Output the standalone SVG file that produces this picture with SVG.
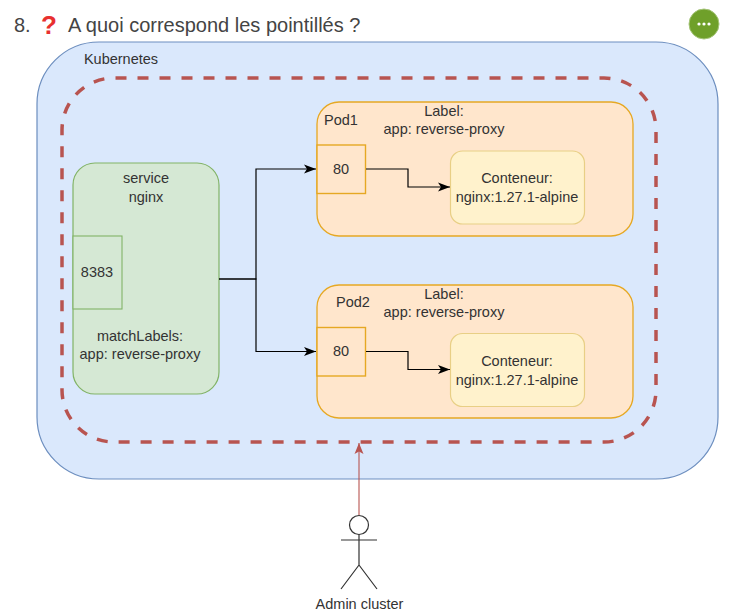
<svg xmlns="http://www.w3.org/2000/svg" width="733" height="614" viewBox="0 0 733 614">
<style>
text{font-family:"Liberation Sans",Arial,sans-serif;font-size:14.5px;fill:#333;text-anchor:middle}
.pod{fill:#ffe6cc;stroke:#e6a823;stroke-width:1.3}
.port{fill:#ffe6cc;stroke:#e6a823;stroke-width:1.4}
.ctr{fill:#fff2cc;stroke:#e8cf85;stroke-width:1.2}
.conn{fill:none;stroke:#000;stroke-width:1.2}
</style>
<defs>
<marker id="a" markerUnits="userSpaceOnUse" markerWidth="13" markerHeight="11" refX="12" refY="5.500" orient="auto"><path d="M0 1L12 5.500L0 10L3 5.500Z" fill="#000"/></marker>
<marker id="r" markerUnits="userSpaceOnUse" markerWidth="12" markerHeight="12" refX="11" refY="5" orient="auto"><path d="M0 0.500L11 5L0 9.500L2.500 5Z" fill="#b85450"/></marker>
</defs>
<rect width="733" height="614" fill="#fff"/>
<g id="title">
<text x="14" y="32" style="font-size:20px;text-anchor:start;fill:#444">8.</text>
<text x="49" y="34" style="font-size:26px;fill:#e8302f;font-weight:bold">?</text>
<text x="68" y="32" style="font-size:20px;text-anchor:start;fill:#444">A quoi correspond les pointillés ?</text>
</g>
<g id="menu"><circle cx="704" cy="24" r="15" fill="#6fa02a" stroke="#a6c57a"/><circle cx="699" cy="24" r="1.600" fill="#fff"/><circle cx="704" cy="24" r="1.600" fill="#fff"/><circle cx="709" cy="24" r="1.600" fill="#fff"/></g>
<g id="kubernetes"><rect x="37" y="42" width="681" height="437" rx="62" fill="#dae8fc" stroke="#6c8ebf" stroke-width="1.2"/><text x="121" y="64">Kubernetes</text></g>
<g id="perimeter"><rect x="62" y="78" width="594" height="364" rx="52" fill="none" stroke="#b85450" stroke-width="3.500" stroke-dasharray="11 11" stroke-dashoffset="-1.500"/></g>
<g id="service"><rect x="73" y="163" width="146" height="231" rx="22" fill="#d5e8d4" stroke="#82b366" stroke-width="1.2"/><text x="146" y="183">service</text><text x="146" y="202">nginx</text><rect x="73" y="236" width="49" height="73" fill="#d5e8d4" stroke="#82b366" stroke-width="1.1"/><text x="97" y="277">8383</text><text x="140" y="341">matchLabels:</text><text x="140" y="359">app: reverse-proxy</text></g>
<g id="pod1"><rect class="pod" x="317" y="102" width="316" height="134" rx="22"/><text x="341" y="125">Pod1</text><text x="444" y="116">Label:</text><text x="444" y="134">app: reverse-proxy</text><rect class="port" x="317" y="145" width="48.500" height="48.500"/><text x="341" y="174">80</text></g>
<g id="container1"><rect class="ctr" x="450.500" y="151" width="134" height="73" rx="12"/><text x="517" y="183">Conteneur:</text><text x="517" y="202">nginx:1.27.1-alpine</text></g>
<g id="pod2"><rect class="pod" x="317" y="285" width="316" height="133" rx="22"/><text x="353" y="307">Pod2</text><text x="444" y="299">Label:</text><text x="444" y="317">app: reverse-proxy</text><rect class="port" x="317" y="327.500" width="48.500" height="48.500"/><text x="341" y="356">80</text></g>
<g id="container2"><rect class="ctr" x="450.500" y="333.500" width="134" height="73" rx="12"/><text x="517" y="366">Conteneur:</text><text x="517" y="385">nginx:1.27.1-alpine</text></g>
<g id="actor" fill="none" stroke="#333" stroke-width="1.2"><circle cx="359" cy="525" r="9.500" fill="#fff"/><path d="M359 534.500V565M341 540H377M359 565L341 589M359 565L377 589"/></g>
<text id="actor-label" x="359.500" y="609">Admin cluster</text>
<g id="connectors">
<path class="conn" d="M219 279H256V169H316" marker-end="url(#a)"/>
<path class="conn" d="M219 279H256V351.500H316" marker-end="url(#a)"/>
<path class="conn" d="M366 169H408V187H450" marker-end="url(#a)"/>
<path class="conn" d="M366 351.500H408V369.500H450" marker-end="url(#a)"/>
<path d="M359 515V443" fill="none" stroke="#b85450" stroke-width="1.1" marker-end="url(#r)"/>
</g>
</svg>
